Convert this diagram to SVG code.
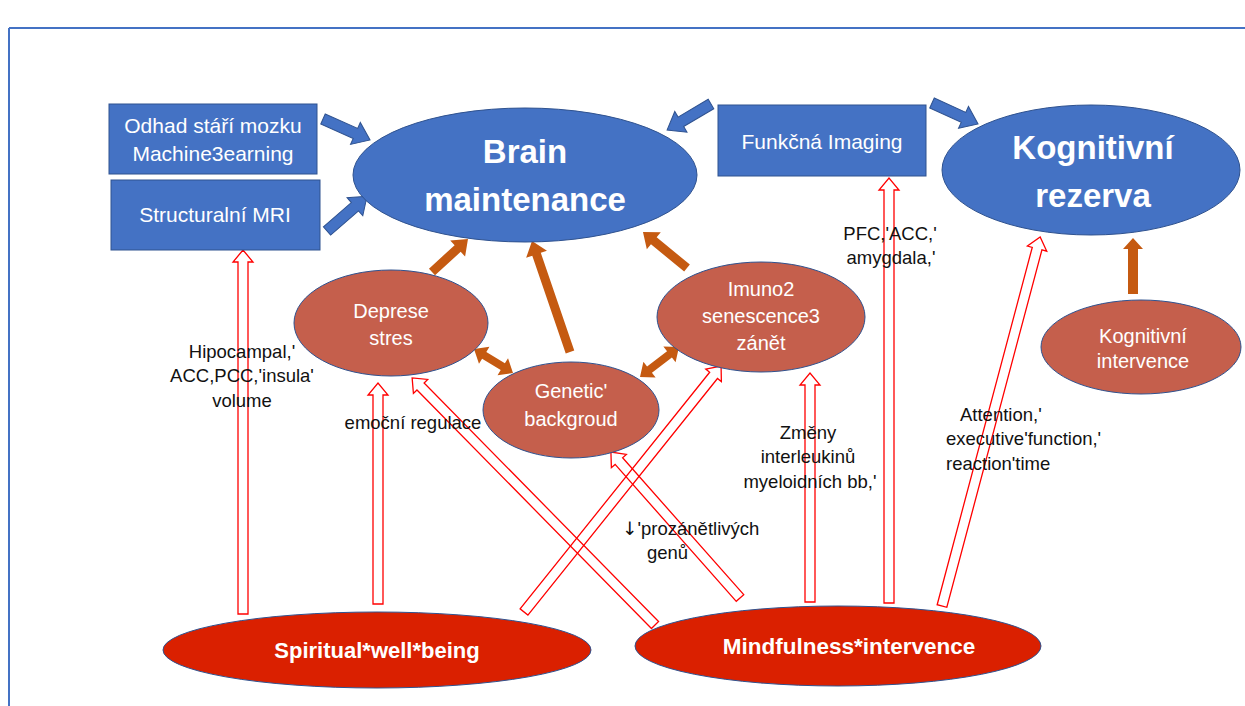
<svg xmlns="http://www.w3.org/2000/svg" width="1245" height="706" viewBox="0 0 1245 706">
<style>
.bl{fill:#4472C4;stroke:#2F528F;stroke-width:1}
.br{fill:#C55F4C;stroke:#2F528F;stroke-width:1}
.rd{fill:#DA2000;stroke:#2F528F;stroke-width:1}
.ba{fill:#4472C4;stroke:#2F528F;stroke-width:1}
.oa{fill:#C55A11;stroke:none}
.ha{fill:none;stroke:#FF0000;stroke-width:1.3}
text{font-family:"Liberation Sans",Arial,sans-serif}
.w{fill:#FFFFFF;text-anchor:middle}
.big{font-size:33px;font-weight:bold}
.box{font-size:21px}
.nd{font-size:20px}
.bb{font-size:22px;font-weight:bold}
.lb{fill:#111111;font-size:18.5px}
.c{text-anchor:middle}
</style>
<rect x="0" y="0" width="1245" height="706" fill="#FFFFFF"/>
<g id="frame">
<line x1="9" y1="28" x2="1245" y2="28" stroke="#4472C4" stroke-width="2"/>
<line x1="9" y1="28" x2="9" y2="706" stroke="#4472C4" stroke-width="2"/>
</g>
<g id="connectors">
<path class="ba" transform="translate(323,119) rotate(24)" d="M0,-5.5 L35.5,-5.5 L35.5,-12 L51.5,0 L35.5,12 L35.5,5.5 L0,5.5 Z"/>
<path class="ba" transform="translate(327,231) rotate(-41)" d="M0,-5.5 L37,-5.5 L37,-12 L53,0 L37,12 L37,5.5 L0,5.5 Z"/>
<path class="ba" transform="translate(711,104) rotate(149.4)" d="M0,-5.5 L35,-5.5 L35,-12 L51,0 L35,12 L35,5.5 L0,5.5 Z"/>
<path class="ba" transform="translate(932,103) rotate(24.5)" d="M0,-5.5 L34.6,-5.5 L34.6,-12 L50.6,0 L34.6,12 L34.6,5.5 L0,5.5 Z"/>
<path class="oa" transform="translate(432,272) rotate(-42.5)" d="M0,-4.5 L34.8,-4.5 L34.8,-11 L48.8,0 L34.8,11 L34.8,4.5 L0,4.5 Z"/>
<path class="oa" transform="translate(570,352) rotate(-108.9)" d="M0,-4.5 L103.3,-4.5 L103.3,-11 L117.3,0 L103.3,11 L103.3,4.5 L0,4.5 Z"/>
<path class="oa" transform="translate(687,268) rotate(-140.7)" d="M0,-4.5 L42.9,-4.5 L42.9,-11 L56.9,0 L42.9,11 L42.9,4.5 L0,4.5 Z"/>
<path class="oa" transform="translate(1133,294) rotate(-90)" d="M0,-5 L45,-5 L45,-10 L56,0 L45,10 L45,5 L0,5 Z"/>
<path class="oa" transform="translate(474,349) rotate(31.6)" d="M0,0 L12,-10 L12,-4 L33.8,-4 L33.8,-10 L45.8,0 L33.8,10 L33.8,4 L12,4 L12,10 Z"/>
<path class="oa" transform="translate(640,377) rotate(-37.6)" d="M0,0 L12,-10 L12,-4 L37.2,-4 L37.2,-10 L49.2,0 L37.2,10 L37.2,4 L12,4 L12,10 Z"/>
<path class="ha" transform="translate(243,614) rotate(-90)" d="M0,-5 L352,-5 L352,-10 L364,0 L352,10 L352,5 L0,5 Z"/>
<path class="ha" transform="translate(378,604) rotate(-90)" d="M0,-5 L209,-5 L209,-10 L221,0 L209,10 L209,5 L0,5 Z"/>
<path class="ha" transform="translate(524,612) rotate(-51.3)" d="M0,-5 L303.2,-5 L303.2,-10 L315.2,0 L303.2,10 L303.2,5 L0,5 Z"/>
<path class="ha" transform="translate(655,625) rotate(-134.5)" d="M0,-5 L334.5,-5 L334.5,-10 L346.5,0 L334.5,10 L334.5,5 L0,5 Z"/>
<path class="ha" transform="translate(740,598) rotate(-131.5)" d="M0,-5 L182.8,-5 L182.8,-10 L194.8,0 L182.8,10 L182.8,5 L0,5 Z"/>
<path class="ha" transform="translate(810,602) rotate(-90)" d="M0,-5 L217,-5 L217,-10 L229,0 L217,10 L217,5 L0,5 Z"/>
<path class="ha" transform="translate(889,603) rotate(-90)" d="M0,-5 L413,-5 L413,-10 L425,0 L413,10 L413,5 L0,5 Z"/>
<path class="ha" transform="translate(942,606) rotate(-75.1)" d="M0,-5 L369.8,-5 L369.8,-10 L381.8,0 L369.8,10 L369.8,5 L0,5 Z"/>
</g>
<g id="odhad">
<rect class="bl" x="109" y="104" width="208" height="70"/>
<text class="w box" x="213" y="133">Odhad stáří mozku</text>
<text class="w box" x="213" y="161">Machine3earning</text>
</g>
<g id="structural">
<rect class="bl" x="111" y="180" width="209" height="70"/>
<text class="w box" x="215" y="222">Structuralní MRI</text>
</g>
<g id="funkcna">
<rect class="bl" x="718" y="105" width="208" height="71"/>
<text class="w box" x="822" y="149">Funkčná Imaging</text>
</g>
<g id="brain">
<ellipse class="bl" cx="525" cy="175" rx="172" ry="67"/>
<text class="w big" x="525" y="163">Brain</text>
<text class="w big" x="525" y="211">maintenance</text>
</g>
<g id="rezerva">
<ellipse class="bl" cx="1091" cy="170" rx="149" ry="65"/>
<text class="w big" x="1093" y="159">Kognitivní</text>
<text class="w big" x="1093" y="207">rezerva</text>
</g>
<g id="deprese">
<ellipse class="br" cx="391" cy="323" rx="97" ry="53"/>
<text class="w nd" x="391" y="318">Deprese</text>
<text class="w nd" x="391" y="345">stres</text>
</g>
<g id="genetic">
<ellipse class="br" cx="571" cy="410" rx="88" ry="48"/>
<text class="w nd" x="571" y="398">Genetic'</text>
<text class="w nd" x="571" y="426">backgroud</text>
</g>
<g id="imuno">
<ellipse class="br" cx="761" cy="317" rx="104" ry="55"/>
<text class="w nd" x="761" y="296">Imuno2</text>
<text class="w nd" x="761" y="323">senescence3</text>
<text class="w nd" x="761" y="350">zánět</text>
</g>
<g id="kintervence">
<ellipse class="br" cx="1141" cy="347" rx="100" ry="47"/>
<text class="w nd" x="1143" y="343">Kognitivní</text>
<text class="w nd" x="1143" y="368">intervence</text>
</g>
<g id="spiritual">
<ellipse class="rd" cx="377" cy="650" rx="214" ry="38"/>
<text class="w bb" x="377" y="658">Spiritual*well*being</text>
</g>
<g id="mindfulness">
<ellipse class="rd" cx="838" cy="646" rx="203" ry="40"/>
<text class="w bb" x="849" y="654" style="font-size:22.5px">Mindfulness*intervence</text>
</g>
<g id="labels">
<text class="lb c" x="242" y="358">Hipocampal,'</text>
<text class="lb c" x="242" y="382">ACC,PCC,'insula'</text>
<text class="lb c" x="242" y="407">volume</text>
<text class="lb c" x="413" y="429">emoční regulace</text>
<text class="lb c" x="890" y="240">PFC,'ACC,'</text>
<text class="lb c" x="891" y="264">amygdala,'</text>
<text class="lb c" x="808" y="439">Změny</text>
<text class="lb c" x="808" y="463">interleukinů</text>
<text class="lb c" x="810" y="488">myeloidních bb,'</text>
<text class="lb" x="622" y="535"><tspan style="font-family:'DejaVu Sans',sans-serif">↓</tspan>'prozánětlivých</text>
<text class="lb" x="647" y="559">genů</text>
<text class="lb" x="960" y="421">Attention,'</text>
<text class="lb" x="946" y="445">executive'function,'</text>
<text class="lb" x="946" y="470">reaction'time</text>
</g>
</svg>
